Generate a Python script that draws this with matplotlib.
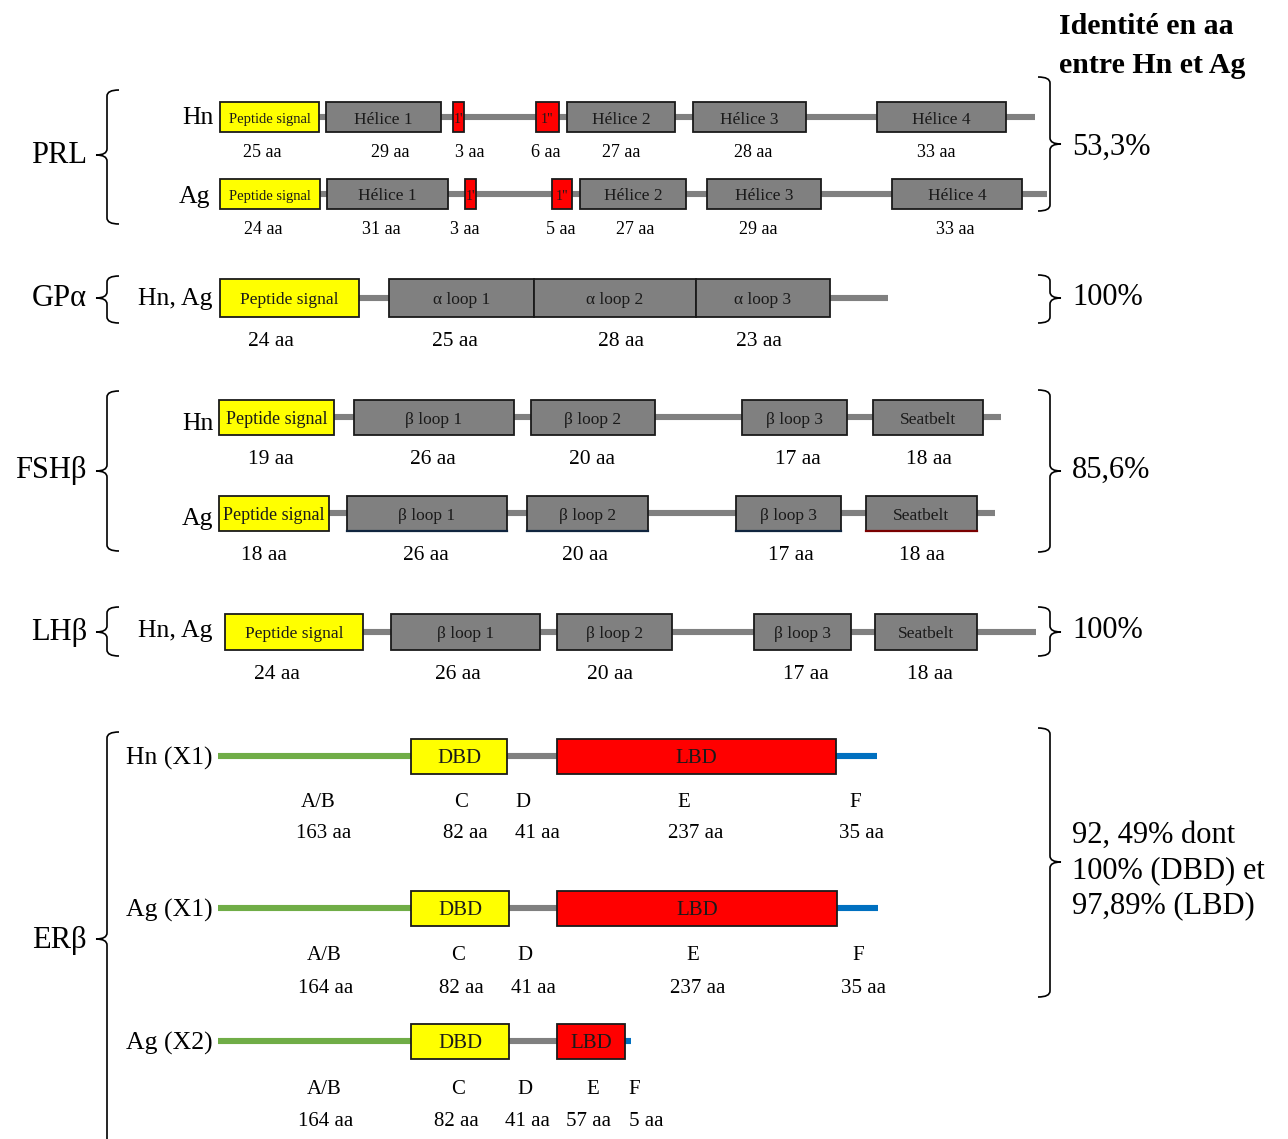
import matplotlib
matplotlib.use("Agg")
import matplotlib.pyplot as plt
from matplotlib.patches import Rectangle, PathPatch
from matplotlib.path import Path

plt.rcParams.update({
    "font.family": ["Liberation Serif", "DejaVu Serif"],
})

# ---- data -------------------------------------------------------------------
PRL_DOMAINS = ["Peptide signal", "Hélice 1", "1'", '1"', "Hélice 2", "Hélice 3", "Hélice 4"]
PRL_HN_AA = [25, 29, 3, 6, 27, 28, 33]
PRL_AG_AA = [24, 31, 3, 5, 27, 29, 33]

GPA_DOMAINS = ["Peptide signal", "α loop 1", "α loop 2", "α loop 3"]
GPA_AA = [24, 25, 28, 23]

BETA_DOMAINS = ["Peptide signal", "β loop 1", "β loop 2", "β loop 3", "Seatbelt"]
FSH_HN_AA = [19, 26, 20, 17, 18]
FSH_AG_AA = [18, 26, 20, 17, 18]
LH_AA = [24, 26, 20, 17, 18]

ER_REGIONS = ["A/B", "C", "D", "E", "F"]
ER_BOXES = ["", "DBD", "", "LBD", ""]
ER_HN_X1_AA = [163, 82, 41, 237, 35]
ER_AG_X1_AA = [164, 82, 41, 237, 35]
ER_AG_X2_AA = [164, 82, 41, 57, 5]

HORMONES = ["PRL", "GPα", "FSHβ", "LHβ", "ERβ"]
IDENTITY = ["53,3%", "100%", "85,6%", "100%", "92, 49% dont\n100% (DBD) et\n97,89% (LBD)"]
TITLE = "Identité en aa\nentre Hn et Ag"

# ---- layout (pixel coordinates) --------------------------------------------
GREY = "#808080"
YEL = "#ffff00"
RED = "#ff0000"
GREEN = "#70ad47"
BLUE = "#0070c0"
EDGE = "#1a1a1a"
DY = 2.5  # text sits a little low in the original

fig = plt.figure(figsize=(12.88, 11.39), dpi=100)
ax = fig.add_axes([0, 0, 1, 1])
ax.set_xlim(0, 1288)
ax.set_ylim(1139, 0)
ax.axis("off")


def txt(x, y, s, fs, ha="center", **kw):
    ax.text(x, y + DY, s, ha=ha, va="center", fontsize=fs, **kw)


def backbone(x0, x1, y, color=GREY):
    ax.plot([x0, x1], [y, y], color=color, lw=4.4, solid_capstyle="butt", zorder=1)


def box(x0, x1, y, h, fc, text, fs, tc="#1a1a1a", bottom=None):
    ax.add_patch(Rectangle((x0, y - h / 2), x1 - x0, h, facecolor=fc,
                           edgecolor=EDGE, linewidth=1.3, zorder=2))
    if bottom:
        ax.plot([x0, x1], [y + h / 2, y + h / 2], color=bottom, lw=1.6, zorder=3)
    txt((x0 + x1) / 2, y, text, fs, color=tc, zorder=4)


def row(y, h, line, spans, names, colors, fs, aa, aa_x, aa_y, aa_fs, bottoms=None):
    backbone(line[0], line[1], y)
    for i, (s, n, c) in enumerate(zip(spans, names, colors)):
        b = bottoms[i] if bottoms else None
        box(s[0], s[1], y, h, c, n, fs[i], bottom=b)
    for a, xx in zip(aa, aa_x):
        txt(xx, aa_y, f"{a} aa", aa_fs)


def brace(xv, yt, yb, ym, side=1, w=12, tick=11):
    # side=1: "{" opening to the right; side=-1: "}" opening to the left
    s = side
    verts = [(xv + s * w, yt), (xv, yt), (xv, yt + 6),
             (xv, ym - 6), (xv, ym), (xv - s * tick, ym),
             (xv, ym), (xv, ym + 6),
             (xv, yb - 6), (xv, yb), (xv + s * w, yb)]
    codes = [Path.MOVETO, Path.CURVE3, Path.CURVE3,
             Path.LINETO, Path.CURVE3, Path.CURVE3,
             Path.CURVE3, Path.CURVE3,
             Path.LINETO, Path.CURVE3, Path.CURVE3]
    ax.add_patch(PathPatch(Path(verts, codes), fill=False, lw=1.2, ec="black"))


BIG = 22
SIDE = 18.5

# title
ax.text(1059, 46, TITLE, ha="left", va="center", fontsize=21.5,
        fontweight="bold", linespacing=1.6)

# ---- PRL --------------------------------------------------------------------
prl_cols = [YEL, GREY, RED, RED, GREY, GREY, GREY]
prl_fs = [10.5, 12.5, 10, 10, 12.5, 12.5, 12.5]
row(117, 30, (319, 1035),
    [(220, 319), (326, 441), (453, 464), (536, 559), (567, 675), (693, 806), (877, 1006)],
    PRL_DOMAINS, prl_cols, prl_fs, PRL_HN_AA,
    [262, 390, 470, 546, 621, 753, 936], 150, 13)
row(194, 30, (319, 1047),
    [(220, 320), (327, 448), (465, 476), (552, 572), (580, 686), (707, 821), (892, 1022)],
    PRL_DOMAINS, prl_cols, prl_fs, PRL_AG_AA,
    [263, 381, 465, 561, 635, 758, 955], 227, 13)
txt(214, 116, "Hn", SIDE, ha="right")
txt(210, 194, "Ag", SIDE, ha="right")
brace(107, 90, 224, 155)
brace(1050, 77, 211, 144, side=-1)

# ---- GPalpha ---------------------------------------------------------------
row(298, 38, (359, 888),
    [(220, 359), (389, 534), (534, 696), (696, 830)],
    GPA_DOMAINS, [YEL, GREY, GREY, GREY], [12.5] * 4, GPA_AA,
    [271, 455, 621, 759], 339, 15.5)
txt(213, 296, "Hn, Ag", SIDE, ha="right")
brace(107, 276, 323, 298)
brace(1050, 275, 323, 298, side=-1)

# ---- FSHbeta ---------------------------------------------------------------
row(417, 35, (334, 1001),
    [(219, 334), (354, 514), (531, 655), (742, 847), (873, 983)],
    BETA_DOMAINS, [YEL, GREY, GREY, GREY, GREY], [13, 12.5, 12.5, 12.5, 12.5], FSH_HN_AA,
    [271, 433, 592, 798, 929], 457, 15.5)
row(513, 35, (329, 995),
    [(219, 329), (347, 507), (527, 648), (736, 841), (866, 977)],
    BETA_DOMAINS, [YEL, GREY, GREY, GREY, GREY], [13, 12.5, 12.5, 12.5, 12.5], FSH_AG_AA,
    [264, 426, 585, 791, 922], 553, 15.5,
    bottoms=[None, "#10253f", "#10253f", "#10253f", "#7a0000"])
txt(214, 421, "Hn", SIDE, ha="right")
txt(213, 517, "Ag", SIDE, ha="right")
brace(107, 391, 551, 471)
brace(1050, 390, 552, 471, side=-1)

# ---- LHbeta ----------------------------------------------------------------
row(632, 36, (363, 1036),
    [(225, 363), (391, 540), (557, 672), (754, 851), (875, 977)],
    BETA_DOMAINS, [YEL, GREY, GREY, GREY, GREY], [12.5] * 5, LH_AA,
    [277, 458, 610, 806, 930], 672, 15.5)
txt(213, 629, "Hn, Ag", SIDE, ha="right")
brace(107, 607, 656, 632)
brace(1050, 607, 656, 632, side=-1)

# ---- ERbeta ----------------------------------------------------------------
seg_colors = [GREEN, YEL, GREY, RED, BLUE]


def er_row(y, bounds, aa, reg_x, aa_x, reg_y, aa_y, label):
    for i in range(5):
        x0, x1 = bounds[i], bounds[i + 1]
        if ER_BOXES[i]:
            box(x0, x1, y, 35, seg_colors[i], ER_BOXES[i], 15)
        else:
            backbone(x0, x1, y, color=seg_colors[i])
    for r, xx in zip(ER_REGIONS, reg_x):
        txt(xx, reg_y, r, 15)
    for a, xx in zip(aa, aa_x):
        txt(xx, aa_y, f"{a} aa", 15)
    txt(213, y, label, SIDE, ha="right")


er_row(756, [218, 411, 507, 557, 836, 877], ER_HN_X1_AA,
       [318, 461, 523, 684, 855], [324, 465, 537, 696, 862], 800, 831, "Hn (X1)")
er_row(908, [218, 411, 509, 557, 837, 878], ER_AG_X1_AA,
       [324, 458, 525, 693, 858], [326, 461, 533, 698, 864], 953, 986, "Ag (X1)")
er_row(1041, [218, 411, 509, 557, 625, 631], ER_AG_X2_AA,
       [324, 458, 525, 593, 634], [326, 456, 527, 589, 646], 1087, 1119, "Ag (X2)")
brace(107, 732, 1160, 939)
brace(1050, 728, 997, 862, side=-1)

# ---- hormone names and identity values -------------------------------------
name_y = [153, 296, 468, 630, 938]
for n, yy in zip(HORMONES, name_y):
    txt(87, yy, n, BIG, ha="right")

ident_y = [145, 295, 468, 628, 868]
for t, yy in zip(IDENTITY, ident_y):
    txt(1072, yy, t, BIG, ha="left", linespacing=1.3)

fig.savefig("out.png", dpi=100)
